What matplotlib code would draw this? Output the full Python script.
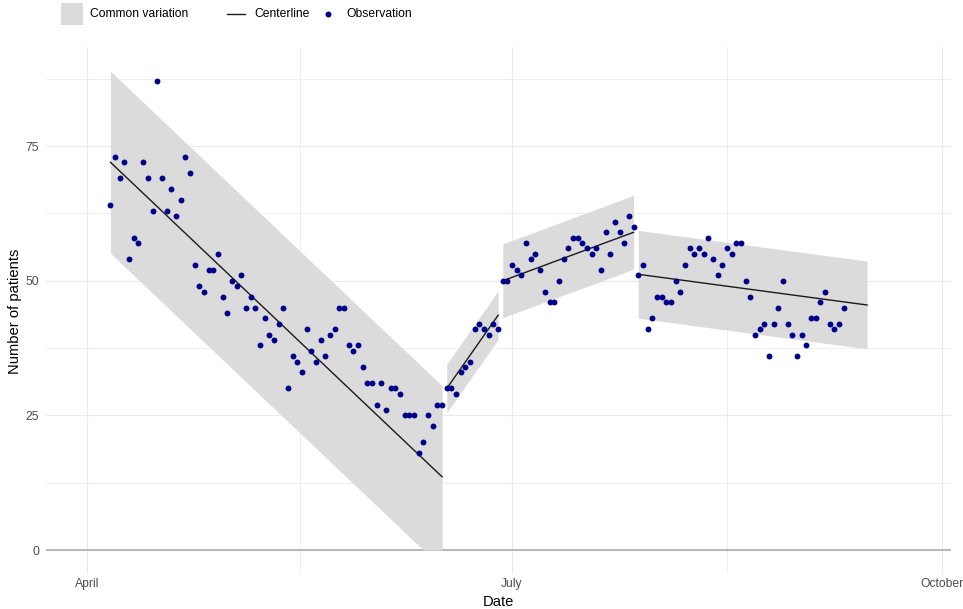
import matplotlib
matplotlib.use("Agg")
import matplotlib.pyplot as plt
import matplotlib.dates as mdates
import numpy as np
import pandas as pd
from matplotlib.patches import Rectangle
from matplotlib.lines import Line2D

# ---------------- data ----------------
first_date = "2023-04-06"
phase1 = [64, 73, 69, 72, 54, 58, 57, 72, 69, 63, 87, 69, 63, 67, 62, 65, 73, 70,
          53, 49, 48, 52, 52, 55, 47, 44, 50, 49, 51, 45, 47, 45, 38, 43, 40, 39,
          42, 45, 30, 36, 35, 33, 41, 37, 35, 39, 36, 40, 41, 45, 45, 38, 37, 38,
          34, 31, 31, 27, 31, 26, 30, 30, 29, 25, 25, 25, 18, 20, 25, 23, 27, 27]
phase2 = [30, 30, 29, 33, 34, 35, 41, 42, 41, 40, 42, 41]
phase3 = [50, 50, 53, 52, 51, 57, 54, 55, 52, 48, 46, 46, 50, 54, 56, 58, 58, 57,
          56, 55, 56, 52, 59, 55, 61, 59, 57, 62, 60]
phase4 = [51, 53, 41, 43, 47, 47, 46, 46, 50, 48, 53, 56, 55, 56, 55, 58, 54, 51,
          53, 56, 55, 57, 57, 50, 47, 40, 41, 42, 36, 42, 45, 50, 42, 40, 36, 40,
          38, 43, 43, 46, 48, 42, 41, 42, 45, None, None, None, None, None]
centerline_start = [72.0, 30.0, 50.0, 51.2]
centerline_end = [13.6, 43.6, 59.0, 45.5]
limit_halfwidth = [16.9, 4.5, 6.85, 8.15]
tick_dates = ["2023-04-01", "2023-07-01", "2023-10-01"]
tick_labels = ["April", "July", "October"]
y_ticks = [0, 25, 50, 75]

# ---------------- styling ----------------
plt.rcParams["font.family"] = ["Liberation Sans", "DejaVu Sans"]
W, H = 963, 609
band_color = "#DBDBDB"
point_color = "#00008B"
grid_color = "#EBEBEB"

fig = plt.figure(figsize=(W / 100, H / 100), dpi=100)
L, R, T, B = 46.3, 950.7, 47.3, 574.0
ax = fig.add_axes([L / W, 1 - B / H, (R - L) / W, (B - T) / H])

phases = [phase1, phase2, phase3, phase4]
values = np.array([np.nan if v is None else v for p in phases for v in p], dtype=float)
dates = pd.date_range(first_date, periods=len(values), freq="D")
xnum = mdates.date2num(dates)

# bands and centerlines
i0 = 0
for p, c0, c1, hw in zip(phases, centerline_start, centerline_end, limit_halfwidth):
    n = len(p)
    xs = xnum[i0:i0 + n]
    t = np.linspace(0, n - 1, 800)
    xf = xs[0] + t
    cf = c0 + (c1 - c0) * t / (n - 1)
    ax.fill_between(xf, np.clip(cf - hw, 0, None), cf + hw, color=band_color,
                    linewidth=0, zorder=2)
    ax.plot([xs[0], xs[-1]], [c0, c1], color="#1a1a1a", lw=1.0, zorder=3)
    i0 += n

ax.axhline(0, color="#A6A6A6", lw=1.1, zorder=1.5)
ax.scatter(xnum, values, s=18, color=point_color, linewidths=0, zorder=4)

# axes
apr1 = mdates.date2num(pd.Timestamp(tick_dates[0]))
ax.set_xlim(apr1 - 8.74, apr1 + 184.9)
ax.set_ylim(-4.45, 93.35)
tk = mdates.date2num(pd.to_datetime(tick_dates))
ax.set_xticks(tk)
ax.set_xticklabels(tick_labels)
ax.set_xticks((tk[:-1] + tk[1:]) / 2, minor=True)
ax.set_yticks(y_ticks)
ax.set_yticks([12.5, 37.5, 62.5, 87.5], minor=True)
ax.grid(True, which="major", color=grid_color, lw=0.8, zorder=0)
ax.grid(True, which="minor", color=grid_color, lw=0.6, zorder=0)
ax.set_axisbelow(True)
for s in ax.spines.values():
    s.set_visible(False)
ax.tick_params(which="both", length=0)
ax.tick_params(axis="y", pad=5.3, labelsize=8.7, labelcolor="#4D4D4D")
ax.tick_params(axis="x", pad=3.0, labelsize=8.7, labelcolor="#4D4D4D")

fig.text(498.7 / W, 1 - 601.5 / H, "Date", ha="center", va="center", fontsize=10.6)
fig.text(15 / W, 1 - 311 / H, "Number of patients", ha="center", va="center",
         rotation=90, fontsize=10.6)

# legend (top)
ly = 1 - 14 / H
fig.add_artist(Rectangle((61 / W, 1 - 24.7 / H), 21.6 / W, 21.4 / H,
                         transform=fig.transFigure, color=band_color, lw=0))
fig.text(90 / W, ly, "Common variation", va="center", fontsize=8.7)
fig.add_artist(Line2D([227 / W, 245 / W], [ly, ly], transform=fig.transFigure,
                      color="#1a1a1a", lw=1.0))
fig.text(254 / W, ly, "Centerline", va="center", fontsize=8.7)
fig.add_artist(Line2D([328.3 / W], [ly], transform=fig.transFigure, marker="o",
                      ms=4.3, color=point_color, lw=0, markeredgewidth=0))
fig.text(346 / W, ly, "Observation", va="center", fontsize=8.7)

fig.savefig("out.png", dpi=100)
